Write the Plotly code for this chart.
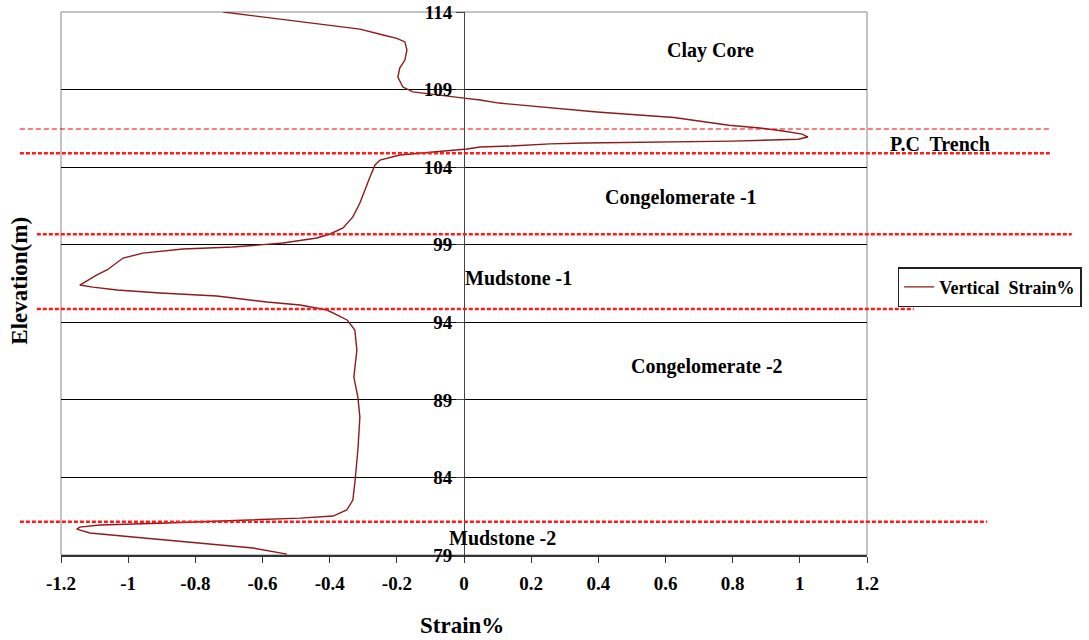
import plotly.graph_objects as go

# Vertical strain profile (strain %, elevation m)
strain = [-0.717, -0.667, -0.557, -0.429, -0.310, -0.241, -0.200, -0.176, -0.170, -0.176,
          -0.191, -0.197, -0.182, -0.152, -0.101, 0.000, 0.048, 0.104, 0.396, 0.625,
          0.789, 0.881, 0.950, 1.007, 1.024, 0.995, 0.799, 0.509, 0.360, 0.256,
          0.140, 0.048, 0.009, -0.092, -0.191, -0.250, -0.265, -0.280, -0.295, -0.310,
          -0.331, -0.360, -0.399, -0.438, -0.539, -0.688, -0.837, -0.956, -1.015, -1.063,
          -1.093, -1.144, -1.105, -1.033, -0.905, -0.736, -0.587, -0.488, -0.408, -0.348,
          -0.325, -0.319, -0.328, -0.316, -0.310, -0.316, -0.325, -0.331, -0.349, -0.390,
          -0.488, -0.637, -0.884, -1.084, -1.144, -1.153, -1.114, -0.986, -0.786, -0.628,
          -0.527]
elevation = [114.00, 113.87, 113.55, 113.23, 112.90, 112.52, 112.30, 112.07, 111.55, 110.90,
             110.40, 109.80, 109.16, 108.85, 108.70, 108.45, 108.33, 108.13, 107.55, 107.20,
             106.70, 106.52, 106.33, 106.13, 105.94, 105.80, 105.68, 105.62, 105.56, 105.50,
             105.36, 105.30, 105.17, 104.98, 104.78, 104.46, 104.14, 103.37, 102.53, 101.69,
             100.79, 100.08, 99.69, 99.43, 99.11, 98.85, 98.72, 98.46, 98.14, 97.37,
             97.05, 96.40, 96.27, 96.08, 95.89, 95.69, 95.31, 95.11, 94.79, 94.15,
             93.50, 92.21, 90.47, 89.18, 87.89, 85.77, 83.64, 82.54, 81.90, 81.51,
             81.38, 81.25, 81.06, 80.93, 80.80, 80.67, 80.42, 80.16, 79.77, 79.45,
             79.06]

# Layer boundaries (elevation, m)
boundary_thin = [106.46]
boundary_thick = [104.89, 99.67, 94.85, 81.14]

# Layer labels (x in strain units, y in elevation)
layer_names = ["Clay Core", "P.C  Trench", "Congelomerate -1", "Mudstone -1",
               "Congelomerate -2", "Mudstone -2"]
layer_x = [0.733, 1.418, 0.646, 0.161, 0.724, 0.116]
layer_y = [111.55, 105.49, 102.07, 96.85, 91.18, 80.09]

x_ticks = [-1.2, -1.0, -0.8, -0.6, -0.4, -0.2, 0.0, 0.2, 0.4, 0.6, 0.8, 1.0, 1.2]
x_ticktext = ["-1.2", "-1", "-0.8", "-0.6", "-0.4", "-0.2", "0", "0.2", "0.4", "0.6", "0.8", "1", "1.2"]
y_ticks = [79, 84, 89, 94, 99, 104, 109, 114]

X_RANGE = [-1.2, 1.2]
FONT = "Liberation Serif"

fig = go.Figure()
fig.add_trace(go.Scatter(
    x=strain, y=elevation, mode="lines", name="Vertical  Strain%",
    line=dict(color="#8E1B1B", width=1.4),
))

shapes = []
# plot border (gray)
shapes.append(dict(type="rect", xref="paper", yref="paper", x0=0, x1=1, y0=0, y1=1,
                   line=dict(color="#888888", width=1), layer="below"))
extents_thin = [(-0.051, 1.228)]
for e, (a, b) in zip(boundary_thin, extents_thin):
    shapes.append(dict(type="line", xref="paper", yref="y", x0=a, x1=b, y0=e, y1=e,
                       line=dict(color="#F00000", width=1.2, dash="5px,3px"), layer="above"))
extents_thick = [(-0.051, 1.228), (-0.030, 1.254), (-0.030, 1.058), (-0.051, 1.149)]
for e, (a, b) in zip(boundary_thick, extents_thick):
    shapes.append(dict(type="line", xref="paper", yref="y", x0=a, x1=b, y0=e, y1=e,
                       line=dict(color="#FF1A1A", width=2.5, dash="4px,2px"), layer="above"))

annotations = []
for name, ax_, ay_ in zip(layer_names, layer_x, layer_y):
    if X_RANGE[0] <= ax_ <= X_RANGE[1]:
        xref, xv = "x", ax_
    else:  # outside the axis range: place in paper coordinates so it is not hidden
        xref, xv = "paper", (ax_ - X_RANGE[0]) / (X_RANGE[1] - X_RANGE[0])
    annotations.append(dict(x=xv, y=ay_, xref=xref, yref="y", text=name, showarrow=False,
                            xanchor="center", yanchor="middle",
                            font=dict(family=FONT, size=20, color="black", weight="bold")))
annotations.append(dict(x=-0.051, y=0.505, xref="paper", yref="paper", text="Elevation(m)",
                        textangle=-90, showarrow=False, xanchor="center", yanchor="middle",
                        font=dict(family=FONT, size=23, color="black", weight="bold")))
annotations.append(dict(x=0.497, y=-0.129, xref="paper", yref="paper", text="Strain%",
                        showarrow=False, xanchor="center", yanchor="middle",
                        font=dict(family=FONT, size=23, color="black", weight="bold")))

fig.update_layout(
    width=1089, height=640,
    margin=dict(l=61, r=222, t=12, b=85, autoexpand=False),
    paper_bgcolor="white", plot_bgcolor="white",
    shapes=shapes, annotations=annotations,
    showlegend=True,
    legend=dict(x=1.038, y=0.53, xanchor="left", yanchor="top",
                bordercolor="#222222", borderwidth=1.5, bgcolor="white",
                font=dict(family=FONT, size=18, color="black", weight="bold")),
    xaxis=dict(range=X_RANGE, tickvals=x_ticks, ticktext=x_ticktext, automargin=False,
               showgrid=False, zeroline=True, zerolinecolor="#444444", zerolinewidth=1,
               showline=True, linecolor="#333333", linewidth=1.5,
               ticks="outside", ticklen=6, tickcolor="#333333", ticklabelstandoff=4,
               tickfont=dict(family=FONT, size=19, color="black", weight="bold")),
    yaxis=dict(range=[79, 114], tickvals=y_ticks, anchor="free", position=0.5, automargin=False,
               ticklabeloverflow="allow",
               showgrid=True, gridcolor="black", gridwidth=1, zeroline=False,
               showline=True, linecolor="#444444", linewidth=1,
               ticks="outside", ticklen=8, tickcolor="#444444",
               tickfont=dict(family=FONT, size=19, color="black", weight="bold")),
)

# remove the default page margin so the figure sits at the window's top-left corner
fig.write_html("out.html", config={"displayModeBar": False},
               post_script="document.body.style.margin='0';")
